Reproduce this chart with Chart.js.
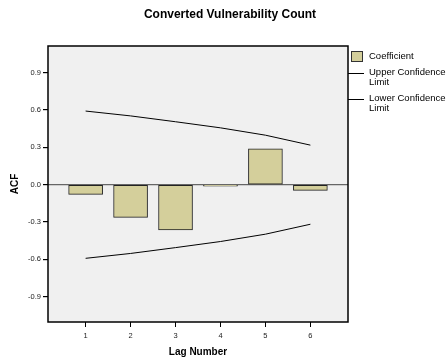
<!DOCTYPE html>
<html>
<head>
<meta charset="utf-8">
<script src="https://cdn.jsdelivr.net/npm/chart.js@4"></script>
<style>
  html, body { margin: 0; padding: 0; background: #fff; }
  #wrap { width: 448px; height: 364px; }
</style>
</head>
<body>
<div id="wrap"><canvas id="acfChart" width="448" height="364"></canvas></div>
<script>
// data
const lags = [1, 2, 3, 4, 5, 6];
const coefficient = [-0.078, -0.263, -0.364, -0.011, 0.289, -0.046];
const upperLimit = [0.592, 0.553, 0.506, 0.457, 0.398, 0.318];
const lowerLimit = [-0.592, -0.553, -0.506, -0.457, -0.398, -0.318];
const yTicks = [-0.9, -0.6, -0.3, 0.0, 0.3, 0.6, 0.9];

const chartTitle = 'Converted Vulnerability Count';
const legendLabels = ['Coefficient', ['Upper Confidence', 'Limit'], ['Lower Confidence', 'Limit']];

const barColor = '#d4cf9b';
const panelColor = '#f0f0f0';

const toPoints = (vals) => lags.map((l, i) => ({ x: l, y: vals[i] }));

// grey plot panel with black frame, title and legend
const spssDecor = {
  id: 'spssDecor',
  beforeDraw(chart) {
    const { ctx, chartArea: a } = chart;
    ctx.save();
    ctx.fillStyle = panelColor;
    ctx.fillRect(a.left, a.top, a.right - a.left, a.bottom - a.top);
    ctx.restore();
  },
  afterDraw(chart) {
    const { ctx, chartArea: a } = chart;
    ctx.save();
    ctx.strokeStyle = '#000';
    ctx.lineWidth = 1.5;
    ctx.strokeRect(a.left, a.top, a.right - a.left, a.bottom - a.top);

    // title
    ctx.fillStyle = '#000';
    ctx.font = 'bold 12px "Liberation Sans", Arial, sans-serif';
    ctx.textAlign = 'center';
    ctx.textBaseline = 'middle';
    ctx.fillText(chartTitle, 230, 15);

    // legend
    ctx.font = '9.5px "Liberation Sans", Arial, sans-serif';
    ctx.textAlign = 'left';
    ctx.fillStyle = barColor;
    ctx.fillRect(351, 51, 11, 10);
    ctx.lineWidth = 1;
    ctx.strokeStyle = '#333';
    ctx.strokeRect(351.5, 51.5, 11, 10);
    ctx.fillStyle = '#000';
    ctx.fillText(legendLabels[0], 369, 56);

    ctx.strokeStyle = '#000';
    [[73, legendLabels[1]], [99, legendLabels[2]]].forEach(([y, txt]) => {
      ctx.beginPath();
      ctx.moveTo(348, y + 0.5);
      ctx.lineTo(364, y + 0.5);
      ctx.stroke();
      ctx.fillText(txt[0], 369, y - 1);
      ctx.fillText(txt[1], 369, y + 9);
    });
    ctx.restore();
  }
};

new Chart(document.getElementById('acfChart').getContext('2d'), {
  type: 'bar',
  data: {
    datasets: [
      {
        type: 'bar',
        label: 'Coefficient',
        data: toPoints(coefficient),
        backgroundColor: barColor,
        borderColor: '#222',
        borderWidth: 1,
        borderSkipped: false,
        barThickness: 34,
        order: 2
      },
      {
        type: 'line',
        label: 'Upper Confidence Limit',
        data: toPoints(upperLimit),
        borderColor: '#000',
        borderWidth: 1,
        pointRadius: 0,
        tension: 0,
        fill: false,
        order: 1
      },
      {
        type: 'line',
        label: 'Lower Confidence Limit',
        data: toPoints(lowerLimit),
        borderColor: '#000',
        borderWidth: 1,
        pointRadius: 0,
        tension: 0,
        fill: false,
        order: 1
      }
    ]
  },
  options: {
    responsive: false,
    animation: false,
    layout: { padding: { left: 0, right: 100, top: 46, bottom: 0 } },
    plugins: {
      legend: { display: false },
      title: { display: false },
      tooltip: { enabled: false }
    },
    scales: {
      x: {
        type: 'linear',
        min: 0.163,
        max: 6.837,
        offset: false,
        afterBuildTicks: (scale) => { scale.ticks = lags.map(v => ({ value: v })); },
        afterFit: (scale) => { scale.height = 42; },
        grid: { offset: false, drawOnChartArea: false, drawTicks: true, tickLength: 5, tickColor: '#000' },
        border: { display: false },
        ticks: {
          color: '#222',
          padding: 4,
          maxRotation: 0,
          font: { family: '"Liberation Sans", Arial, sans-serif', size: 7.5 },
          callback: (v) => String(v)
        },
        title: {
          display: true,
          text: 'Lag Number',
          color: '#000',
          padding: { top: 0, bottom: 6 },
          font: { family: '"Liberation Sans", Arial, sans-serif', size: 10, weight: 'bold' }
        }
      },
      y: {
        type: 'linear',
        min: -1.104,
        max: 1.115,
        afterBuildTicks: (scale) => { scale.ticks = yTicks.map(v => ({ value: v })); },
        afterFit: (scale) => { scale.width = 48; },
        grid: {
          drawTicks: true,
          tickLength: 5,
          tickColor: '#000',
          lineWidth: 1.2,
          color: (c) => (c.tick && c.tick.value === 0 ? '#666' : 'rgba(0,0,0,0)')
        },
        border: { display: false },
        ticks: {
          color: '#222',
          padding: 2,
          font: { family: '"Liberation Sans", Arial, sans-serif', size: 7.5 },
          callback: (v) => Number(v).toFixed(1)
        },
        title: {
          display: true,
          text: 'ACF',
          color: '#000',
          padding: { top: 9, bottom: 0 },
          font: { family: '"Liberation Sans", Arial, sans-serif', size: 10, weight: 'bold' }
        }
      }
    }
  },
  plugins: [spssDecor]
});
</script>
</body>
</html>
